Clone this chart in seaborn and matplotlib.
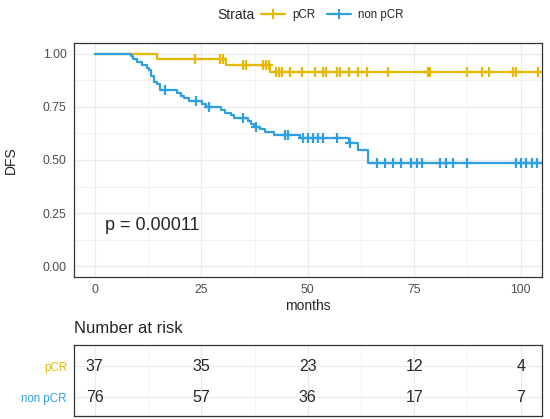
import matplotlib
matplotlib.use('Agg')
import matplotlib.pyplot as plt
from matplotlib.lines import Line2D
import seaborn as sns
import pandas as pd
import numpy as np

# Kaplan-Meier steps (months, survival)
pcr_times = [0, 14.7, 30.8, 41.2]
pcr_surv = [1.0, 0.973, 0.946, 0.912]
pcr_censor = [23.6, 29.4, 30.0, 34.7, 35.4, 39.5, 40.1, 40.8, 42.6, 43.2, 43.9, 45.8, 48.7,
              51.7, 53.6, 54.4, 56.8, 57.5, 59.7, 61.9, 63.8, 68.9, 78.2, 78.8, 87.3, 91.0,
              92.5, 98.3, 98.8, 104.0]

non_times = [0, 8.6, 9.0, 10.0, 11.2, 12.2, 12.7, 13.3, 13.9, 14.7, 15.3, 19.4, 20.2, 21.0,
             22.2, 25.1, 26.1, 29.6, 30.5, 32.0, 32.8, 35.9, 36.7, 37.4, 38.9, 40.0, 42.1,
             48.1, 59.6, 61.8, 64.2]
non_surv = [1.0, 0.987, 0.974, 0.961, 0.947, 0.934, 0.921, 0.895, 0.868, 0.855, 0.829, 0.816,
            0.803, 0.790, 0.777, 0.763, 0.750, 0.737, 0.723, 0.710, 0.696, 0.684, 0.670, 0.657,
            0.644, 0.630, 0.617, 0.604, 0.578, 0.545, 0.487]
non_censor = [16.4, 23.7, 26.9, 34.7, 37.9, 44.6, 45.3, 48.9, 50.1, 51.3, 52.5, 53.5, 56.8,
              59.9, 66.2, 68.1, 70.0, 72.0, 74.2, 75.6, 76.8, 81.1, 82.5, 84.0, 87.3, 98.8,
              100.0, 101.2, 102.6, 103.9]
followup_end = 105

strata = ['pCR', 'non pCR']
pal = {'pCR': '#E7B800', 'non pCR': '#2E9FDF'}

risk_times = [0, 25, 50, 75, 100]
risk_pcr = [37, 35, 23, 12, 4]
risk_non = [76, 57, 36, 17, 7]
pval_text = 'p = 0.00011'

sns.set_style('white')
plt.rcParams['font.family'] = ['Liberation Sans', 'DejaVu Sans']

#build tables
curves = []
cens = []
for name, t, s, c in [('pCR', pcr_times, pcr_surv, pcr_censor), ('non pCR', non_times, non_surv, non_censor)]:
    curves.append(pd.DataFrame({'months': t + [followup_end], 'surv': s + [s[-1]], 'strata': name}))
    idx = np.searchsorted(t, c, side='right') - 1
    cens.append(pd.DataFrame({'months': c, 'surv': np.array(s)[idx], 'strata': name}))
curves = pd.concat(curves, ignore_index=True)
cens = pd.concat(cens, ignore_index=True)

fig = plt.figure(figsize=(5.5, 4.19), dpi=100)
W, H = 550, 419
ax = fig.add_axes([73.5 / W, 1 - 277 / H, 468.5 / W, 234 / H])
axt = fig.add_axes([73.5 / W, 1 - 416 / H, 468.5 / W, 71 / H])

sns.lineplot(data=curves, x='months', y='surv', hue='strata', palette=pal, drawstyle='steps-post',
             estimator=None, sort=False, lw=1.6, legend=False, ax=ax)
sns.scatterplot(data=cens, x='months', y='surv', hue='strata', palette=pal, marker='+', s=50,
                linewidth=1.6, legend=False, ax=ax, zorder=3)

ax.set_xlim(-5, 105)
ax.set_ylim(-0.05, 1.05)
ax.set_xticks(risk_times)
ax.set_xticks([12.5, 37.5, 62.5, 87.5], minor=True)
ax.set_yticks([0, 0.25, 0.5, 0.75, 1.0])
ax.set_yticklabels(['0.00', '0.25', '0.50', '0.75', '1.00'])
ax.set_yticks([0.125, 0.375, 0.625, 0.875], minor=True)
ax.grid(which='major', color='#EBEBEB', lw=0.9)
ax.grid(which='minor', color='#EBEBEB', lw=0.45)
ax.set_axisbelow(True)
ax.tick_params(which='major', length=2.5, width=0.6, color='#333333', pad=2.5, labelsize=8.8, labelcolor='#4D4D4D')
ax.tick_params(which='minor', length=0)
for sp in ax.spines.values():
    sp.set_color('#333333')
    sp.set_linewidth(0.9)
ax.set_xlabel('months', fontsize=10, labelpad=2)
ax.set_ylabel('DFS', fontsize=10)
ax.yaxis.set_label_coords(-0.118, 0.5)
ax.text(2.3, 0.19, pval_text, fontsize=13, ha='left', va='center')

#legend on top
fig.text(236 / W, 1 - 15 / H, 'Strata', fontsize=10, ha='center', va='center')
handles = [Line2D([], [], color=pal[s], lw=1.6, marker='+', markersize=7, markeredgewidth=1.5) for s in strata]
fig.legend(handles, strata, ncol=2, loc='center left', bbox_to_anchor=(261 / W, 1 - 15 / H),
           frameon=False, fontsize=8.3, handlelength=2.1, handletextpad=0.6, columnspacing=1.0,
           borderaxespad=0, borderpad=0)

#risk table
rows = {'pCR': 1, 'non pCR': 0}
for name, vals in [('pCR', risk_pcr), ('non pCR', risk_non)]:
    for t, v in zip(risk_times, vals):
        axt.text(t, rows[name], str(v), ha='center', va='center', fontsize=11.5)
axt.set_xlim(-5, 105)
axt.set_ylim(-0.61, 1.68)
axt.set_xticks(risk_times)
axt.set_xticks([12.5, 37.5, 62.5, 87.5], minor=True)
axt.set_yticks([0, 1])
axt.set_yticklabels(['non pCR', 'pCR'])
for lab, s in zip(axt.get_yticklabels(), ['non pCR', 'pCR']):
    lab.set_color(pal[s])
axt.grid(which='major', color='#EBEBEB', lw=0.9)
axt.grid(which='minor', axis='x', color='#EBEBEB', lw=0.45)
axt.set_axisbelow(True)
axt.tick_params(which='both', length=0, labelbottom=False, pad=4.7, labelsize=8.3)
for sp in axt.spines.values():
    sp.set_color('#333333')
    sp.set_linewidth(0.9)
fig.text(73.5 / W, 1 - 328 / H, 'Number at risk', fontsize=12, ha='left', va='center')

plt.savefig('out.png', dpi=100)
plt.close()
